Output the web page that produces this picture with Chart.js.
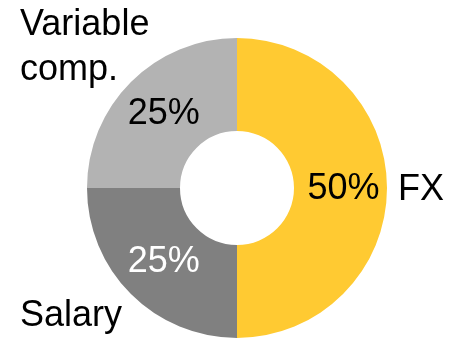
<!DOCTYPE html>
<html>
<head>
<meta charset="utf-8">
<script src="https://cdn.jsdelivr.net/npm/chart.js@4.4.1/dist/chart.umd.min.js"></script>
<style>
  html, body { margin: 0; padding: 0; background: #fff; }
  #wrap { width: 450px; height: 341px; position: relative; }
</style>
</head>
<body>
<div id="wrap"><canvas id="pay-mix"></canvas></div>
<script>
// pay mix split
const categories = ['FX', 'Salary', 'Variable comp.'];
const shares = [50, 25, 25];
const sliceColors = ['#FFCA32', '#808080', '#B3B3B3'];
const pctColors = ['#000000', '#FFFFFF', '#000000'];
// small nudges for the in-slice percent text
const pctNudgeX = [3, 0, 0];
const pctNudgeY = [1, 1, -1];

const FONT = '36px "Liberation Sans", Arial, sans-serif';

// percent inside each slice + category names outside the ring
const sliceLabels = {
    id: 'sliceLabels',
    afterDraw(chart) {
        const ctx = chart.ctx;
        const arcs = chart.getDatasetMeta(0).data;
        const total = shares.reduce((a, b) => a + b, 0);
        ctx.save();
        ctx.font = FONT;
        ctx.textAlign = 'center';
        ctx.textBaseline = 'middle';
        arcs.forEach((arc, i) => {
            const p = arc.tooltipPosition();
            ctx.fillStyle = pctColors[i];
            ctx.fillText(Math.round(shares[i] / total * 100) + '%', p.x + pctNudgeX[i], p.y + pctNudgeY[i]);
        });

        const a = arcs[0];
        const cx = a.x, cy = a.y, r = a.outerRadius;
        ctx.fillStyle = '#000';
        ctx.textAlign = 'left';
        ctx.textBaseline = 'alphabetic';
        // FX on the right
        ctx.fillText(categories[0], cx + r + 11, cy + 12);
        // Salary bottom-left
        ctx.fillText(categories[1], cx - 217, cy + 138);
        // Variable comp. top-left, two lines
        ctx.fillText('Variable', cx - 217, cy - 153);
        ctx.fillText('comp.', cx - 217, cy - 108);
        ctx.restore();
    }
};

new Chart(document.getElementById('pay-mix'), {
    type: 'doughnut',
    data: {
        labels: categories,
        datasets: [{
            data: shares,
            backgroundColor: sliceColors,
            borderWidth: 0,
            hoverOffset: 0
        }]
    },
    options: {
        responsive: true,
        maintainAspectRatio: false,
        animation: false,
        cutout: '38%',
        layout: { padding: { left: 87, right: 63, top: 38, bottom: 3 } },
        plugins: {
            legend: { display: false },
            tooltip: { enabled: false }
        }
    },
    plugins: [sliceLabels]
});
</script>
</body>
</html>
